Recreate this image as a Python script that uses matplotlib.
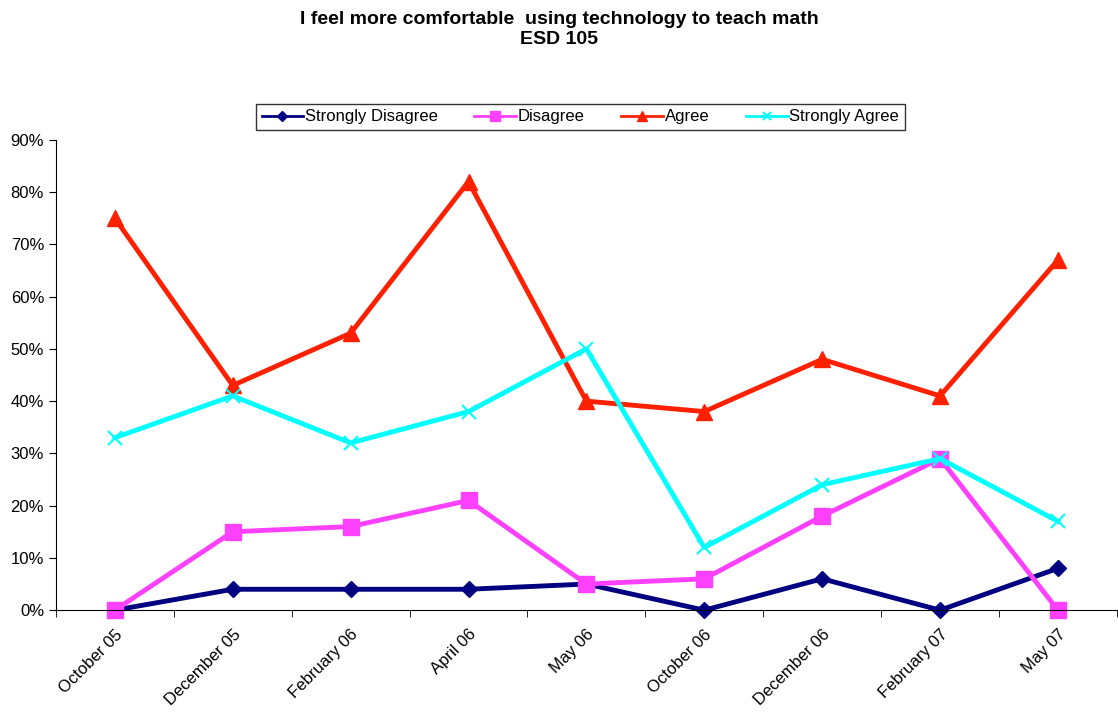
import numpy as np
import matplotlib
matplotlib.use('Agg')
import matplotlib.pyplot as plt
from matplotlib.ticker import PercentFormatter

plt.rcParams['font.family'] = ['Liberation Sans', 'DejaVu Sans']

lstMonths = ['October 05', 'December 05', 'February 06', 'April 06', 'May 06',
             'October 06', 'December 06', 'February 07', 'May 07']
lstStronglyDisagree = [0, 4, 4, 4, 5, 0, 6, 0, 8]
lstDisagree = [0, 15, 16, 21, 5, 6, 18, 29, 0]
lstAgree = [75, 43, 53, 82, 40, 38, 48, 41, 67]
lstStronglyAgree = [33, 41, 32, 38, 50, 12, 24, 29, 17]

fig = plt.figure(figsize=(11.18, 7.17), dpi=100)
ax = fig.add_axes([0.050, 0.149, 0.949, 0.656])

x = np.arange(len(lstMonths))
ax.plot(x, lstStronglyDisagree, color='#000080', lw=3.5, marker='D', ms=8, label='Strongly Disagree')
ax.plot(x, lstDisagree, color='#FF40FF', lw=3.5, marker='s', ms=12, label='Disagree')
ax.plot(x, lstAgree, color='#FF2000', lw=3.5, marker='^', ms=12, label='Agree')
ax.plot(x, lstStronglyAgree, color='#00FFFF', lw=3.5, marker='x', ms=10, mew=1.5, label='Strongly Agree')

# axes look like excel
ax.set_xlim(-0.5, len(lstMonths) - 0.5)
ax.set_ylim(0, 90)
ax.set_yticks(np.arange(0, 91, 10))
ax.yaxis.set_major_formatter(PercentFormatter(decimals=0))
ax.set_xticks(x)
ax.set_xticklabels(lstMonths, rotation=45, ha='right', rotation_mode='anchor', fontsize=12)
ax.set_xticks(np.arange(-0.5, len(lstMonths)), minor=True)
ax.tick_params(axis='x', which='major', length=0, pad=12)
ax.tick_params(axis='x', which='minor', length=5, direction='out')
ax.tick_params(axis='y', length=5, direction='out', labelsize=12)
for s in ['top', 'right']:
    ax.spines[s].set_visible(False)
for ln in ax.lines:
    ln.set_clip_on(False)

fig.text(0.5, 0.985, 'I feel more comfortable  using technology to teach math\nESD 105',
         ha='center', va='top', fontsize=14, fontweight='bold', linespacing=1.25)

leg = fig.legend(loc='center', bbox_to_anchor=(0.519, 0.837), ncol=4, frameon=True, fancybox=False,
                 edgecolor='black', fontsize=12, handlelength=2.5, handletextpad=0.1,
                 columnspacing=2.2, markerscale=0.6, borderpad=0.35)
leg.get_frame().set_linewidth(1.0)
for h in leg.get_lines():
    h.set_linewidth(2)

plt.savefig('out.png', format='png')
plt.close('all')
